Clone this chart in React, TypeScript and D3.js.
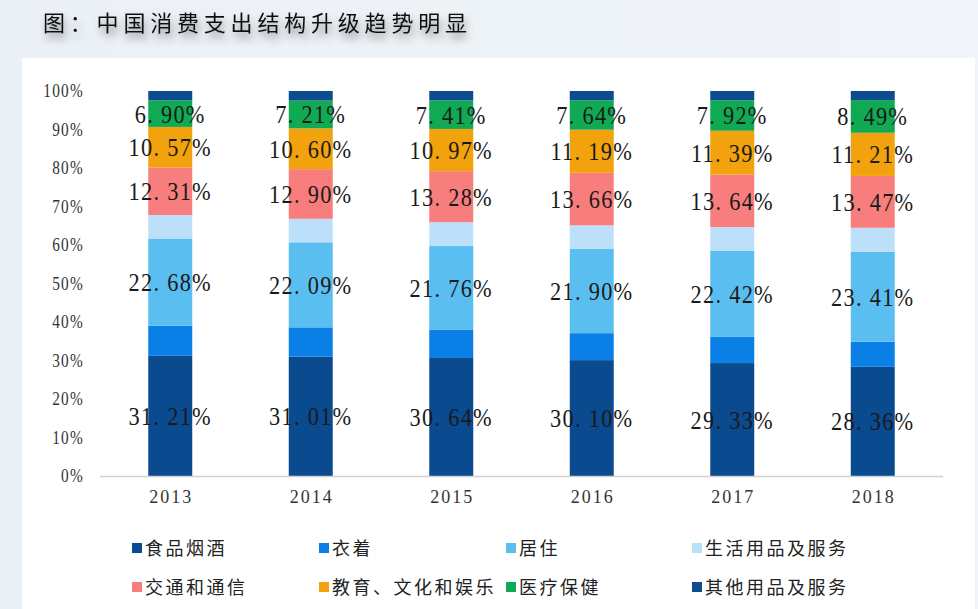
import React from "react";
import * as d3 from "d3";

const years = ["2013", "2014", "2015", "2016", "2017", "2018"];
const seriesNames = ["食品烟酒", "衣着", "居住", "生活用品及服务", "交通和通信", "教育、文化和娱乐", "医疗保健", "其他用品及服务"];
const food = [31.21, 31.01, 30.64, 30.10, 29.33, 28.36];
const clothing = [7.8, 7.6, 7.4, 7.0, 6.8, 6.5];
const housing = [22.68, 22.09, 21.76, 21.90, 22.42, 23.41];
const daily = [6.1, 6.1, 6.1, 6.1, 6.1, 6.2];
const transport = [12.31, 12.90, 13.28, 13.66, 13.64, 13.47];
const education = [10.57, 10.60, 10.97, 11.19, 11.39, 11.21];
const medical = [6.90, 7.21, 7.41, 7.64, 7.92, 8.49];
const other = [2.43, 2.49, 2.44, 2.41, 2.40, 2.36];
const labeled = [true, false, true, false, true, true, true, false];
const yTicks = [0, 10, 20, 30, 40, 50, 60, 70, 80, 90, 100];
const colors = ["#0a4a8f", "#0a7fe6", "#5bbef0", "#bde0fa", "#f87d7d", "#f2a20c", "#10a954", "#0d4d8f"];

const seriesValues = [food, clothing, housing, daily, transport, education, medical, other];

export default function App() {
  const W = 978, H = 609;
  const x = d3.scaleBand<string>().domain(years).range([100, 943]).paddingInner(0.687).paddingOuter(0.3435);
  const y = d3.scaleLinear().domain([0, 100]).range([476, 91]);

  const table = years.map((yr, i) => {
    const row: any = { year: yr };
    seriesNames.forEach((s, k) => (row[s] = seriesValues[k][i]));
    return row;
  });
  const stacked = d3.stack<any>().keys(seriesNames)(table);

  const serif = "'Liberation Serif', 'DejaVu Serif', serif";
  const cjk = "'Noto Sans CJK SC', sans-serif";

  const legendCols = [132, 319, 506, 692];
  const legendRows = [548, 587];

  const fmt = (v: number) => {
    const s = v.toFixed(2);
    const [a, b] = s.split(".");
    return `${a}. ${b}%`;
  };

  return (
    <svg width={W} height={H} style={{ display: "block", position: "absolute", left: 0, top: 0 }}>
      <defs>
        <filter id="tshadow" x="-10%" y="-60%" width="120%" height="240%">
          <feGaussianBlur in="SourceAlpha" stdDeviation="4" />
          <feOffset dx="2" dy="6" result="ob" />
          <feComponentTransfer><feFuncA type="linear" slope="0.45" /></feComponentTransfer>
          <feMerge>
            <feMergeNode />
            <feMergeNode in="SourceGraphic" />
          </feMerge>
        </filter>
        <linearGradient id="bg" x1="0" y1="0" x2="1" y2="0">
          <stop offset="0" stopColor="#eaf0f6" />
          <stop offset="1" stopColor="#f1f5f9" />
        </linearGradient>
      </defs>
      <rect x={0} y={0} width={W} height={H} fill="url(#bg)" />
      <rect x={22} y={58} width={953} height={H - 58} fill="#ffffff" />

      <text x={43} y={31} fontFamily={cjk} fontSize={22} letterSpacing={4.8} fill="#111" filter="url(#tshadow)">
        图：中国消费支出结构升级趋势明显
      </text>

      {yTicks.map((t) => (
        <text key={t} x={0} y={0} transform={`translate(84,${y(t) + 6}) scale(0.85,1)`} textAnchor="end"
          fontFamily={serif} fontSize={18} letterSpacing={1.5} fill="#333">
          {t}%
        </text>
      ))}

      {stacked.map((layer, k) => (
        <g key={seriesNames[k]} fill={colors[k]}>
          {layer.map((d, i) => (
            <rect key={i} x={x(years[i])} y={y(d[1])} width={x.bandwidth()} height={y(d[0]) - y(d[1])} />
          ))}
        </g>
      ))}

      <line x1={100} x2={943} y1={476.5} y2={476.5} stroke="#d0d0d0" strokeWidth={1.5} />

      {years.map((yr) => (
        <text key={yr} x={(x(yr) as number) + x.bandwidth() / 2 + 1} y={503} textAnchor="middle"
          fontFamily={serif} fontSize={18} letterSpacing={2} fill="#333">
          {yr}
        </text>
      ))}

      {stacked.map((layer, k) =>
        labeled[k]
          ? layer.map((d, i) => {
              const cx = (x(years[i]) as number) + x.bandwidth() / 2;
              const cy = (y(d[0]) + y(d[1])) / 2 + 9;
              return (
                <text key={`${k}-${i}`} x={0} y={0} transform={`translate(${cx},${cy}) scale(0.86,1)`}
                  textAnchor="middle" fontFamily={serif} fontSize={26} letterSpacing={1.5} fill="#1a1a1a">
                  {fmt(seriesValues[k][i])}
                </text>
              );
            })
          : null
      )}

      {seriesNames.map((s, k) => {
        const lx = legendCols[k % 4];
        const ly = legendRows[Math.floor(k / 4)];
        return (
          <g key={s}>
            <rect x={lx} y={ly - 5} width={10} height={10} fill={colors[k]} />
            <text x={lx + 13} y={ly + 7} fontFamily={cjk} fontSize={18} letterSpacing={2.5} fill="#222">
              {s}
            </text>
          </g>
        );
      })}
    </svg>
  );
}
